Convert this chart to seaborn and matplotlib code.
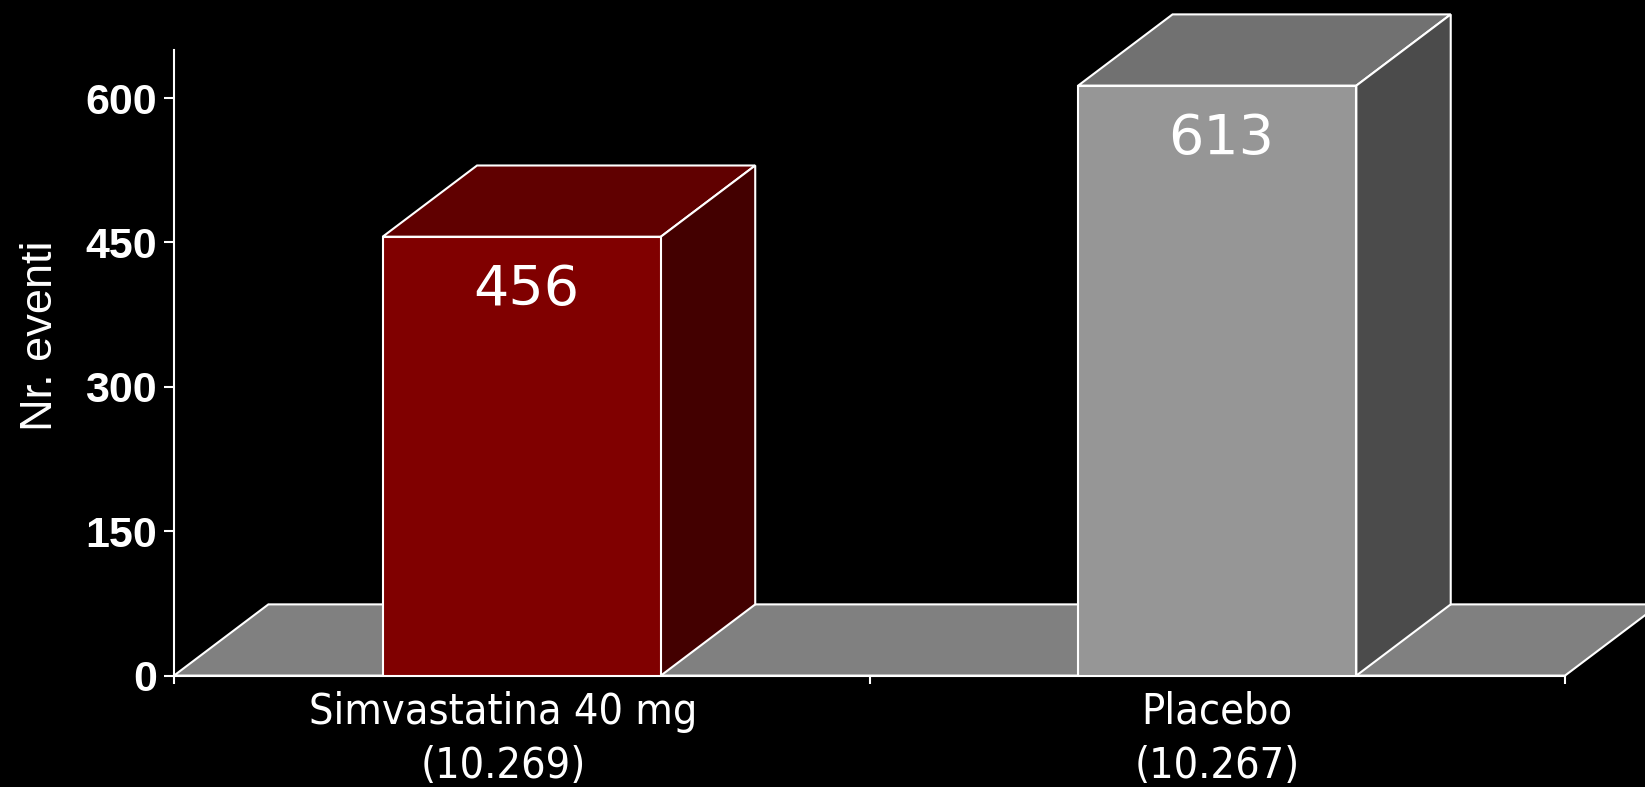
import matplotlib
matplotlib.use("Agg")
import matplotlib.pyplot as plt
import pandas as pd
import seaborn as sns

# Data
groups = ["Simvastatina 40 mg\n(10.269)", "Placebo\n(10.267)"]
events = [456, 613]
y_ticks = [0, 150, 300, 450, 600]
y_label = "Nr. eventi"

# Face colours of the pseudo-3D bars
front_colors = ["#800000", "#969696"]
top_colors = ["#600000", "#717171"]
side_colors = ["#430000", "#4b4b4b"]
floor_color = "#808080"

sns.set_theme(style="white")
plt.rcParams["font.family"] = ["Liberation Sans", "DejaVu Sans"]

W, H = 1645, 787
fig = plt.figure(figsize=(W / 100, H / 100), dpi=100, facecolor="black")
ax = fig.add_axes([174 / W, 111.4 / H, (1565 - 174) / W, (737 - 111.4) / H])
ax.set_facecolor("black")

df = pd.DataFrame({"gruppo": groups, "eventi": events})
sns.barplot(data=df, x="gruppo", y="eventi", hue="gruppo", palette=front_colors,
            saturation=1, width=0.4, edgecolor="white", linewidth=1.5,
            legend=False, ax=ax, zorder=3)

ax.set_xlim(-0.5, 1.5)
ax.set_ylim(0, 650)

# depth of the 3D effect in data units
dx, dy = 0.1357, 74.0
edge = dict(edgecolor="white", linewidth=1.5, clip_on=False)

# floor
ax.fill([-0.5, 1.5, 1.5 + dx, -0.5 + dx], [0, 0, dy, dy],
        facecolor=floor_color, zorder=1, **edge)

for patch, val, tc, sc in zip(ax.patches, events, top_colors, side_colors):
    x0 = patch.get_x()
    w = patch.get_width()
    h = patch.get_height()
    ax.fill([x0, x0 + w, x0 + w + dx, x0 + dx], [h, h, h + dy, h + dy],
            facecolor=tc, zorder=2, **edge)
    ax.fill([x0 + w, x0 + w + dx, x0 + w + dx, x0 + w], [0, dy, h + dy, h],
            facecolor=sc, zorder=2, **edge)
    ax.text(x0 + w / 2 + 0.006, val - 71, f"{val}", ha="center", va="baseline",
            color="white", fontsize=40, family="DejaVu Sans", zorder=5)

# axes styling
for s in ["top", "right"]:
    ax.spines[s].set_visible(False)
for s in ["left", "bottom"]:
    ax.spines[s].set_color("white")
    ax.spines[s].set_linewidth(1.5)

ax.set_yticks(y_ticks)
ax.set_yticklabels([str(t) for t in y_ticks], fontsize=31, fontweight="bold",
                   color="white")
ax.tick_params(axis="y", left=True, length=7.5, width=1.5, color="white", pad=5)

# group labels (the first one sits slightly left of its bar)
ax.set_xticks([-0.027, 1])
ax.set_xticklabels(groups, fontsize=31, color="white", family="DejaVu Sans",
                   fontstretch="condensed")
for lab in ax.get_xticklabels():
    lab.set_linespacing(1.38)
ax.set_xticks([-0.5, 0.5, 1.5], minor=True)
ax.tick_params(axis="x", which="major", length=0, pad=11)
ax.tick_params(axis="x", which="minor", bottom=True, length=6, width=1.5,
               color="white")

ax.set_xlabel("")
ax.set_ylabel(y_label, fontsize=32.5, color="white")
ax.yaxis.label.set_verticalalignment("center")
ax.yaxis.set_label_coords(-0.096, 0.543)

fig.savefig("out.png", dpi=100, facecolor="black")
